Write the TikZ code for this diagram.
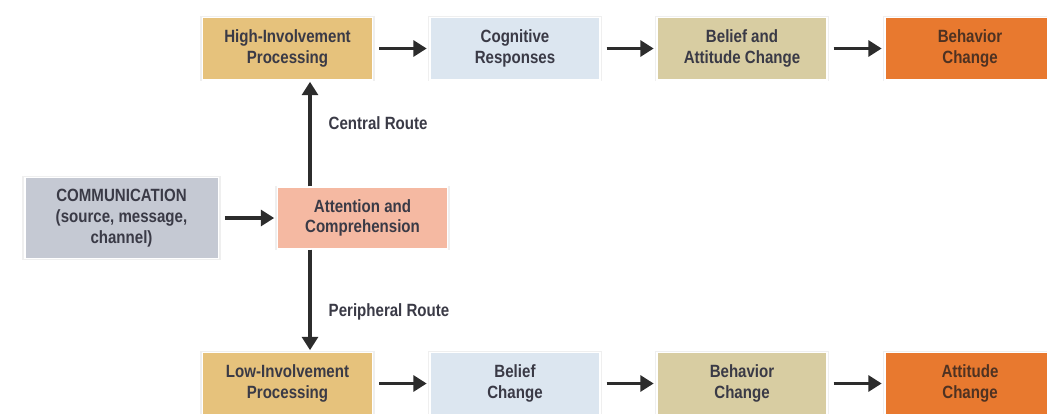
\documentclass[tikz,border=0pt]{standalone}
\usepackage{fontspec}
\setmainfont{Liberation Sans}[FakeStretch=0.85]
\usetikzlibrary{arrows.meta,shadows}
\definecolor{txt}{HTML}{3A3A46}
\definecolor{txtbr}{HTML}{4E3222}
\definecolor{gold}{HTML}{E6C27C}
\definecolor{ltblue}{HTML}{DCE6F0}
\definecolor{khaki}{HTML}{D8CDA2}
\definecolor{orng}{HTML}{E8792F}
\definecolor{salmon}{HTML}{F5B9A2}
\definecolor{slate}{HTML}{C5C9D3}
\definecolor{arr}{HTML}{2C2C2C}
\tikzset{
  box/.style={draw=white, line width=1pt, minimum width=127.5pt, minimum height=47pt,
    align=center, text=txt, inner sep=0pt,
    font=\bfseries\fontsize{13.3}{15.5}\selectfont,
    drop shadow={opacity=0.12, shadow scale=1.025, shadow xshift=0pt, shadow yshift=0pt}},
  flow/.style={draw=arr, line width=2.3pt, -{Triangle[length=10pt,width=12pt]},
    shorten <=4.5pt, shorten >=2pt},
  route/.style={text=txt, anchor=west, font=\bfseries\fontsize{13.3}{15.5}\selectfont}
}
\begin{document}
\begin{tikzpicture}[x=0.75pt,y=-0.75pt]
\useasboundingbox (0,0) rectangle (1047,414);
\clip (0,0) rectangle (1047,414);
\fill[white] (0,0) rectangle (1047,414);
% top row
\node[box, fill=gold]   (hi)  at (287.5,48.5) {High-Involvement\\Processing};
\node[box, fill=ltblue] (cog) at (515,48.5)   {Cognitive\\Responses};
\node[box, fill=khaki]  (bac) at (742,48.5)   {Belief and\\Attitude Change};
\node[box, fill=orng, text=txtbr] (bc1) at (970,48.5) {Behavior\\Change};
% middle
\node[box, fill=slate, minimum width=145pt, minimum height=61pt] (comm) at (121.5,218)
  {COMMUNICATION\\(source, message,\\channel)};
\node[box, fill=salmon, minimum height=46.5pt] (attn) at (362.5,218) {Attention and\\Comprehension};
% bottom row
\node[box, fill=gold]   (lo)  at (287.5,383.5) {Low-Involvement\\Processing};
\node[box, fill=ltblue] (bch) at (515,383.5)   {Belief\\Change};
\node[box, fill=khaki]  (bhv) at (742,383.5)   {Behavior\\Change};
\node[box, fill=orng, text=txtbr] (att) at (970,383.5) {Attitude\\Change};
% connectors
\draw[flow] (hi) -- (cog);
\draw[flow] (cog) -- (bac);
\draw[flow] (bac) -- (bc1);
\draw[flow] (lo) -- (bch);
\draw[flow] (bch) -- (bhv);
\draw[flow] (bhv) -- (att);
\draw[flow] (comm) -- (attn);
\coordinate (vx) at (310,0);
\draw[flow, shorten <=0pt, shorten >=1pt] (vx |- attn.north) -- (vx |- hi.south);
\draw[flow, shorten <=0pt, shorten >=1pt] (vx |- attn.south) -- (vx |- lo.north);
% route labels
\node[route] (cr) at (324,123) {Central Route};
\node[route] (pr) at (324,312) {Peripheral Route};
\end{tikzpicture}
\end{document}
